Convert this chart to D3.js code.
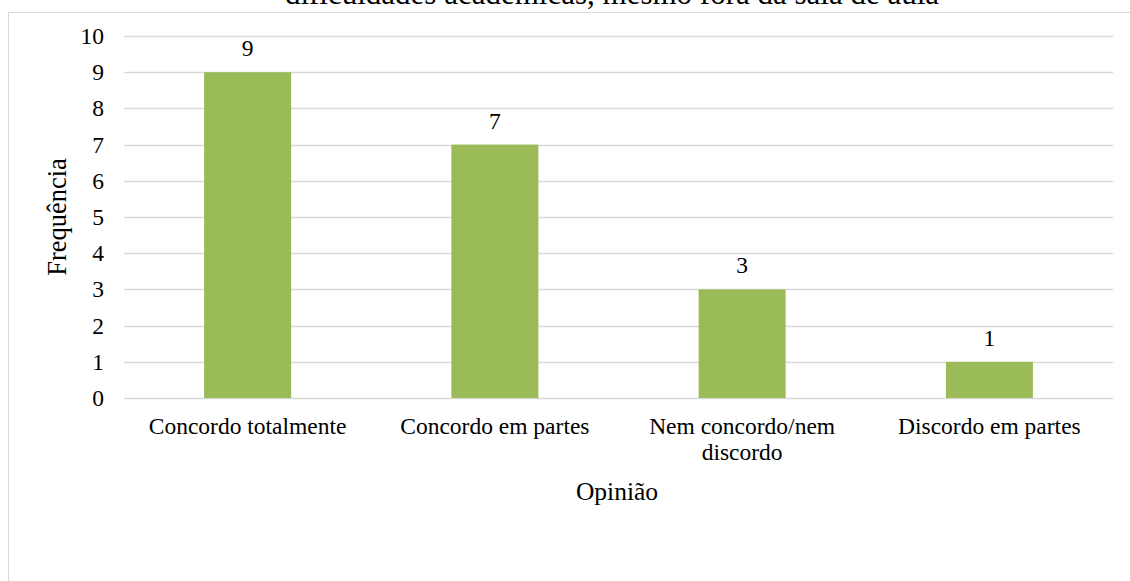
<!DOCTYPE html>
<html><head><meta charset="utf-8">
<script src="https://cdn.jsdelivr.net/npm/d3@7"></script>
<style>body{margin:0;background:#fff}svg{display:block}text{font-family:"Liberation Serif","Times New Roman",serif;fill:#000}</style>
</head><body><svg id="c" width="1130" height="581"></svg>
<script>
const categories = ["Concordo totalmente", "Concordo em partes", "Nem concordo/nem discordo", "Discordo em partes"];
const categoryLines = [["Concordo totalmente"], ["Concordo em partes"], ["Nem concordo/nem", "discordo"], ["Discordo em partes"]];
const values = [9, 7, 3, 1];
const yTicks = [0,1,2,3,4,5,6,7,8,9,10];
const titleText = "dificuldades acadêmicas, mesmo fora da sala de aula";
const xTitle = "Opinião";
const yTitle = "Frequência";

const svg = d3.select("#c");
const L = 124, R = 1113, T = 36, B = 398;
const FS = "23.5px";
const x = d3.scaleBand().domain(categories).range([L, R]).paddingInner(0.648).paddingOuter(0.324);
const y = d3.scaleLinear().domain([0, 10]).range([B, T]);

// chart border (top and left visible)
svg.append("line").attr("x1", 8.5).attr("x2", 1130).attr("y1", 12.5).attr("y2", 12.5).attr("stroke", "#d9d9d9");
svg.append("line").attr("x1", 8.5).attr("x2", 8.5).attr("y1", 12.5).attr("y2", 581).attr("stroke", "#d9d9d9");

// title (cut off at top edge as in the reference)
svg.append("text").attr("x", 612).attr("y", 4).attr("text-anchor", "middle").style("font-size", "31px").text(titleText);

// gridlines
svg.append("g").selectAll("line").data(yTicks).join("line")
  .attr("x1", L).attr("x2", R)
  .attr("y1", d => Math.round(y(d)) + 0.5).attr("y2", d => Math.round(y(d)) + 0.5)
  .attr("stroke", "#d9d9d9").attr("stroke-width", 1.3);

// y axis labels
const yAxis = d3.axisLeft(y).tickValues(yTicks).tickSize(0).tickPadding(20);
const ga = svg.append("g").attr("transform", `translate(${L},0)`).call(yAxis);
ga.select(".domain").remove();
ga.selectAll("text").style("font-size", FS).style("font-family", '"Liberation Serif",serif').attr("fill", "#000");

// bars
svg.append("g").selectAll("rect").data(values).join("rect")
  .attr("x", (d, i) => x(categories[i])).attr("width", x.bandwidth())
  .attr("y", d => y(d)).attr("height", d => B - y(d))
  .attr("fill", "#9bbb59");

// value labels
svg.append("g").selectAll("text").data(values).join("text")
  .attr("x", (d, i) => x(categories[i]) + x.bandwidth() / 2)
  .attr("y", d => y(d) - 16).attr("text-anchor", "middle")
  .style("font-size", FS).text(d => d);

// x labels
const xl = svg.append("g").selectAll("text").data(categoryLines).join("text")
  .attr("x", (d, i) => x(categories[i]) + x.bandwidth() / 2)
  .attr("y", 434).attr("text-anchor", "middle").style("font-size", FS);
xl.each(function(lines, i) {
  const el = d3.select(this);
  lines.forEach((ln, j) => el.append("tspan").attr("x", x(categories[i]) + x.bandwidth() / 2).attr("dy", j ? 26 : 0).text(ln));
});

// axis titles
svg.append("text").attr("x", 617).attr("y", 500).attr("text-anchor", "middle").style("font-size", "25.5px").text(xTitle);
svg.append("text").attr("transform", "translate(66,217) rotate(-90)").attr("text-anchor", "middle").style("font-size", "26.5px").text(yTitle);
</script></body></html>
